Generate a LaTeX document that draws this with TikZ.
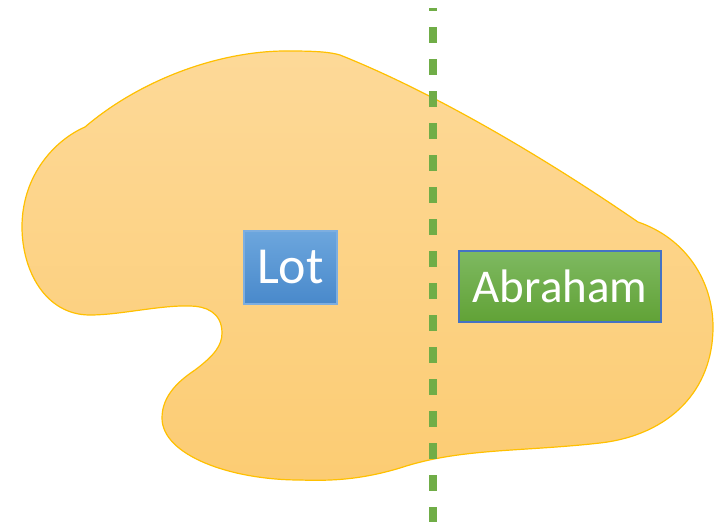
\documentclass[tikz,border=0pt]{standalone}
\usepackage{fontspec}
\setmainfont{Carlito}
\definecolor{blobtop}{HTML}{FDD998}
\definecolor{blobbot}{HTML}{FCCC73}
\definecolor{blobline}{HTML}{FFC000}
\definecolor{lottop}{HTML}{6CA6DD}
\definecolor{lotbot}{HTML}{4989CB}
\definecolor{lotline}{HTML}{7DAEE0}
\definecolor{abrtop}{HTML}{7EB961}
\definecolor{abrbot}{HTML}{61A236}
\definecolor{abrline}{HTML}{4472C4}
\definecolor{divider}{HTML}{70AD47}
\tikzset{
  person/.style={inner sep=0pt, text=white, line width=1.2pt, shading angle=0},
  lotbox/.style={person, draw=lotline, top color=lottop, bottom color=lotbot,
    minimum width=93pt, minimum height=73pt, font=\fontsize{52}{52}\selectfont},
  abrbox/.style={person, draw=abrline, top color=abrtop, bottom color=abrbot,
    minimum width=202pt, minimum height=71pt, font=\fontsize{47}{47}\selectfont},
  land/.style={draw=blobline, line width=1.2pt, top color=blobtop, bottom color=blobbot},
  border/.style={draw=divider, line width=8pt, dash pattern=on 16pt off 16pt, dash phase=13pt}
}
\begin{document}
\begin{tikzpicture}[x=1pt,y=-1pt]
\useasboundingbox (0,0) rectangle (723,522);
\path[land] (340,55) .. controls (435,93) and (545,158) .. (638,222)
  .. controls (685,238) and (713,280) .. (713,327)
  .. controls (713,390) and (670,435) .. (600,443)
  .. controls (520,452) and (460,448) .. (400,468)
  .. controls (360,480) and (330,481) .. (300,480)
  .. controls (230,480) and (162,455) .. (162,418)
  .. controls (162,395) and (180,380) .. (195,370)
  .. controls (215,355) and (222,345) .. (222,333)
  .. controls (222,312) and (205,306) .. (190,306)
  .. controls (160,305) and (120,315) .. (90,315)
  .. controls (45,315) and (22,270) .. (22,227)
  .. controls (22,175) and (55,140) .. (85,127)
  .. controls (140,80) and (220,50) .. (290,51)
  .. controls (315,51) and (330,52) .. (340,55) -- cycle;
\coordinate (divtop) at (433,8);
\coordinate (divbot) at (433,522);
\draw[border] (divtop) -- (divbot);
\node[lotbox] (lot) at (290.5,267.5) {Lot};
\node[abrbox] (abraham) at (560,286.5) {Abraham};
\end{tikzpicture}
\end{document}
